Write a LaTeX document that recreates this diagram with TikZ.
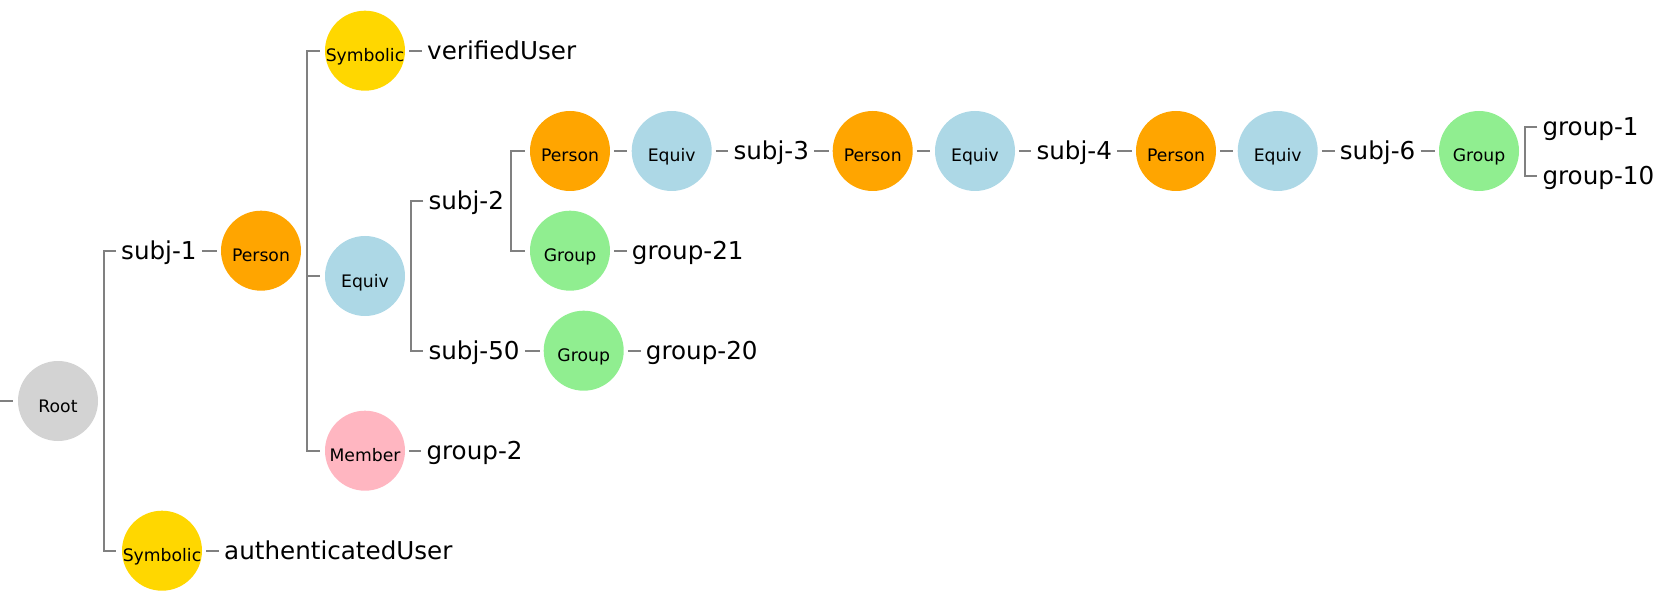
\documentclass[tikz,border=0pt]{standalone}
\usepackage{fontspec}
\setmainfont{DejaVu Sans}
\definecolor{cgray}{HTML}{D3D3D3}
\definecolor{corange}{HTML}{FFA500}
\definecolor{cblue}{HTML}{ADD8E6}
\definecolor{cgold}{HTML}{FFD700}
\definecolor{cpink}{HTML}{FFB6C1}
\definecolor{cgreen}{HTML}{90EE90}
\definecolor{linegray}{HTML}{808080}
\tikzset{
  circ/.style={circle, minimum size=80bp, inner sep=0pt, draw=none},
  conn/.style={draw=linegray, line width=2bp},
  txt/.style={anchor=base west, inner sep=0pt, font=\fontsize{24.7}{30}\selectfont},
  lab/.style={font=\fontsize{17.3}{20}\selectfont, anchor=center, text height=12.6bp, text depth=3.6bp, yshift=-6.5bp, inner sep=0pt},
  person/.style={circ, fill=corange, label={[lab]center:Person}},
  equiv/.style={circ, fill=cblue, label={[lab]center:Equiv}},
  group/.style={circ, fill=cgreen, label={[lab]center:Group}},
  symb/.style={circ, fill=cgold, label={[lab]center:Symbolic}},
  memb/.style={circ, fill=cpink, label={[lab]center:Member}},
  rootst/.style={circ, fill=cgray, label={[lab]center:Root}}
}
\begin{document}
\begin{tikzpicture}[x=1bp, y=-1bp]
\useasboundingbox (0,0) rectangle (1663,602);
% circles
\node[rootst] (root) at (58,401) {};
\node[person] (p1) at (261,250.7) {};
\node[symb]   (sym1) at (365,50.7) {};
\node[equiv]  (e1) at (365,276) {};
\node[memb]   (mem) at (365,450.7) {};
\node[person] (p2) at (570,151) {};
\node[equiv]  (e2) at (671.7,151) {};
\node[group]  (g2) at (570,250.7) {};
\node[group]  (g3) at (583.7,350.7) {};
\node[person] (p3) at (872.7,151) {};
\node[equiv]  (e3) at (975,151) {};
\node[person] (p4) at (1176,151) {};
\node[equiv]  (e4) at (1277.7,151) {};
\node[group]  (g4) at (1479,151) {};
\node[symb]   (sym2) at (162,550.7) {};
% texts
\node[txt] (subj1) at (121,259.5) {subj-1};
\node[txt] (verified) at (427,59.5) {verifiedUser};
\node[txt] (subj2) at (428.3,209.8) {subj-2};
\node[txt] (subj50) at (428.3,359.5) {subj-50};
\node[txt] (group2) at (426.3,459.5) {group-2};
\node[txt] (group21) at (631.7,259.5) {group-21};
\node[txt] (group20) at (645.7,359.5) {group-20};
\node[txt] (subj3) at (733.3,159.8) {subj-3};
\node[txt] (subj4) at (1036.3,159.8) {subj-4};
\node[txt] (subj6) at (1339.7,159.8) {subj-6};
\node[txt] (group1) at (1542.3,135.5) {group-1};
\node[txt] (group10) at (1542.3,184.8) {group-10};
\node[txt] (auth) at (224,559.5) {authenticatedUser};
% root input stub
\coordinate (rin) at (0,401);
\draw[conn] (rin) -- ([xshift=-5bp]root.west);
% root bar
\draw[conn] ([xshift=-5bp]subj1.base west |- p1.center) -| ([xshift=6bp]root.east) |- ([xshift=-6bp]sym2.west);
\draw[conn] ([xshift=5bp]subj1.base east |- p1.west) -- ([xshift=-4bp]p1.west);
\draw[conn] ([xshift=4bp]sym2.east) -- ([xshift=-5bp]auth.base west |- sym2.east);
% p1 bar
\draw[conn] ([xshift=-5bp]sym1.west) -| ([xshift=6bp]p1.east) |- ([xshift=-5bp]mem.west);
\draw[conn] ([xshift=6bp]p1.east |- e1.west) -- ([xshift=-5bp]e1.west);
\draw[conn] ([xshift=4bp]sym1.east) -- ([xshift=-5bp]verified.base west |- sym1.east);
\draw[conn] ([xshift=4bp]mem.east) -- ([xshift=-5bp]group2.base west |- mem.east);
% e1 bar
\draw[conn] ([shift={(-5,-8.8)}]subj2.base west) -| ([xshift=6bp]e1.east) |- ([shift={(-5,-8.8)}]subj50.base west);
% subj2 bar
\draw[conn] ([xshift=-5bp]p2.west) -| ([shift={(6.5,-8.8)}]subj2.base east) |- ([xshift=-5bp]g2.west);
\draw[conn] ([xshift=4bp]g2.east) -- ([xshift=-5bp]group21.base west |- g2.east);
% subj50
\draw[conn] ([xshift=5bp]subj50.base east |- g3.west) -- ([xshift=-4bp]g3.west);
\draw[conn] ([xshift=4bp]g3.east) -- ([xshift=-5bp]group20.base west |- g3.east);
% chain
\draw[conn] ([xshift=4bp]p2.east) -- ([xshift=-5bp]e2.west);
\draw[conn] ([xshift=4bp]e2.east) -- ([xshift=-5bp]subj3.base west |- e2.east);
\draw[conn] ([xshift=5bp]subj3.base east |- p3.west) -- ([xshift=-4bp]p3.west);
\draw[conn] ([xshift=4bp]p3.east) -- ([xshift=-5bp]e3.west);
\draw[conn] ([xshift=4bp]e3.east) -- ([xshift=-5bp]subj4.base west |- e3.east);
\draw[conn] ([xshift=5bp]subj4.base east |- p4.west) -- ([xshift=-4bp]p4.west);
\draw[conn] ([xshift=4bp]p4.east) -- ([xshift=-5bp]e4.west);
\draw[conn] ([xshift=4bp]e4.east) -- ([xshift=-5bp]subj6.base west |- e4.east);
\draw[conn] ([xshift=5bp]subj6.base east |- g4.west) -- ([xshift=-4bp]g4.west);
% g4 bar
\draw[conn] ([shift={(-5,-8.8)}]group1.base west) -| ([xshift=6bp]g4.east) |- ([shift={(-5,-8.8)}]group10.base west);
\end{tikzpicture}
\end{document}
